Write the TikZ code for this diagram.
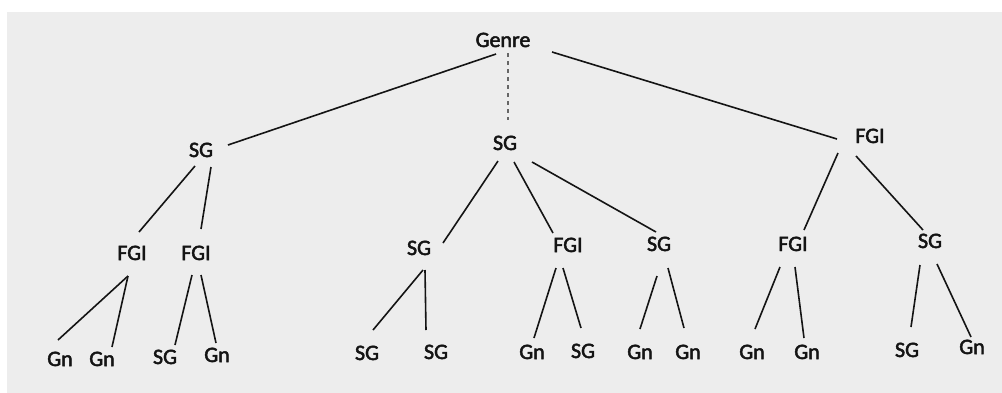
\documentclass[tikz,border=0pt]{standalone}
\usepackage{fontspec}
\setmainfont{Carlito}
\newfontfamily\lblfont{Carlito}[FakeBold=2.2]
\definecolor{bgray}{RGB}{237,237,237}
\definecolor{ink}{RGB}{20,20,20}
\begin{document}
\begin{tikzpicture}[x=1pt,y=-1pt,
  lbl/.style={inner sep=0pt,text height=14pt,text depth=0pt,text=ink,font=\lblfont\fontsize{22}{26}\selectfont},
  edge/.style={draw=ink,line width=1.6pt},
  dedge/.style={draw=ink!65,line width=1.2pt,dash pattern=on 4pt off 4pt}]
\useasboundingbox (0,0) rectangle (1002,392);
\fill[bgray] (7,12) rectangle (1003,393);
% level 0
\node[lbl] (genre) at (503,40) {Genre};
% level 1
\node[lbl] (sgA) at (201,150) {SG};
\node[lbl] (sgB) at (505,143) {SG};
\node[lbl] (fgiC) at (870,136) {FGI};
% level 2
\node[lbl] (fgiA1) at (132,253) {FGI};
\node[lbl] (fgiA2) at (196,253) {FGI};
\node[lbl] (sgB1) at (419,248) {SG};
\node[lbl] (fgiB2) at (568,245) {FGI};
\node[lbl] (sgB3) at (659,244) {SG};
\node[lbl] (fgiC1) at (793,244) {FGI};
\node[lbl] (sgC2) at (930,241) {SG};
% level 3
\node[lbl] (gA1a) at (60,359) {Gn};
\node[lbl] (gA1b) at (102,359) {Gn};
\node[lbl] (sA2a) at (165,357) {SG};
\node[lbl] (gA2b) at (217,355) {Gn};
\node[lbl] (sB1a) at (367,353) {SG};
\node[lbl] (sB1b) at (436,352) {SG};
\node[lbl] (gB2a) at (532,352) {Gn};
\node[lbl] (sB2b) at (583,351) {SG};
\node[lbl] (gB3a) at (640,352) {Gn};
\node[lbl] (gB3b) at (688,352) {Gn};
\node[lbl] (gC1a) at (752,352) {Gn};
\node[lbl] (gC1b) at (807,352) {Gn};
\node[lbl] (sC2a) at (907,350) {SG};
\node[lbl] (gC2b) at (972,347) {Gn};
% connectors
\draw[edge] ([shift={(-7,14)}]genre.center) -- ([shift={(27,-5)}]sgA.center);
\draw[dedge] ([shift={(5,13)}]genre.center) -- ([shift={(3,-23)}]sgB.center);
\draw[edge] ([shift={(49,12)}]genre.center) -- ([shift={(-33,3)}]fgiC.center);
\draw[edge] ([shift={(-6,16)}]sgA.center) -- ([shift={(7,-21)}]fgiA1.center);
\draw[edge] ([shift={(10,17)}]sgA.center) -- ([shift={(5,-24)}]fgiA2.center);
\draw[edge] ([shift={(-4,23)}]fgiA1.center) -- ([shift={(-2,-19)}]gA1a.center);
\draw[edge] ([shift={(-4,23)}]fgiA1.center) -- ([shift={(10,-12)}]gA1b.center);
\draw[edge] ([shift={(-4,22)}]fgiA2.center) -- ([shift={(10,-12)}]sA2a.center);
\draw[edge] ([shift={(5,22)}]fgiA2.center) -- ([shift={(-1,-12)}]gA2b.center);
\draw[edge] ([shift={(-7,18)}]sgB.center) -- ([shift={(24,-5)}]sgB1.center);
\draw[edge] ([shift={(9,19)}]sgB.center) -- ([shift={(-15,-12)}]fgiB2.center);
\draw[edge] ([shift={(27,19)}]sgB.center) -- ([shift={(-3,-12)}]sgB3.center);
\draw[edge] ([shift={(4,22)}]sgB1.center) -- ([shift={(6,-23)}]sB1a.center);
\draw[edge] ([shift={(6,22)}]sgB1.center) -- ([shift={(-10,-22)}]sB1b.center);
\draw[edge] ([shift={(-12,23)}]fgiB2.center) -- ([shift={(2,-14)}]gB2a.center);
\draw[edge] ([shift={(-5,23)}]fgiB2.center) -- ([shift={(-2,-23)}]sB2b.center);
\draw[edge] ([shift={(-2,32)}]sgB3.center) -- ([shift={(0,-23)}]gB3a.center);
\draw[edge] ([shift={(9,24)}]sgB3.center) -- ([shift={(-4,-24)}]gB3b.center);
\draw[edge] ([shift={(-32,17)}]fgiC.center) -- ([shift={(11,-14)}]fgiC1.center);
\draw[edge] ([shift={(-14,20)}]fgiC.center) -- ([shift={(-7,-11)}]sgC2.center);
\draw[edge] ([shift={(-13,23)}]fgiC1.center) -- ([shift={(3,-23)}]gC1a.center);
\draw[edge] ([shift={(2,23)}]fgiC1.center) -- ([shift={(-3,-14)}]gC1b.center);
\draw[edge] ([shift={(-10,24)}]sgC2.center) -- ([shift={(4,-23)}]sC2a.center);
\draw[edge] ([shift={(7,23)}]sgC2.center) -- ([shift={(-1,-10)}]gC2b.center);
\end{tikzpicture}
\end{document}
